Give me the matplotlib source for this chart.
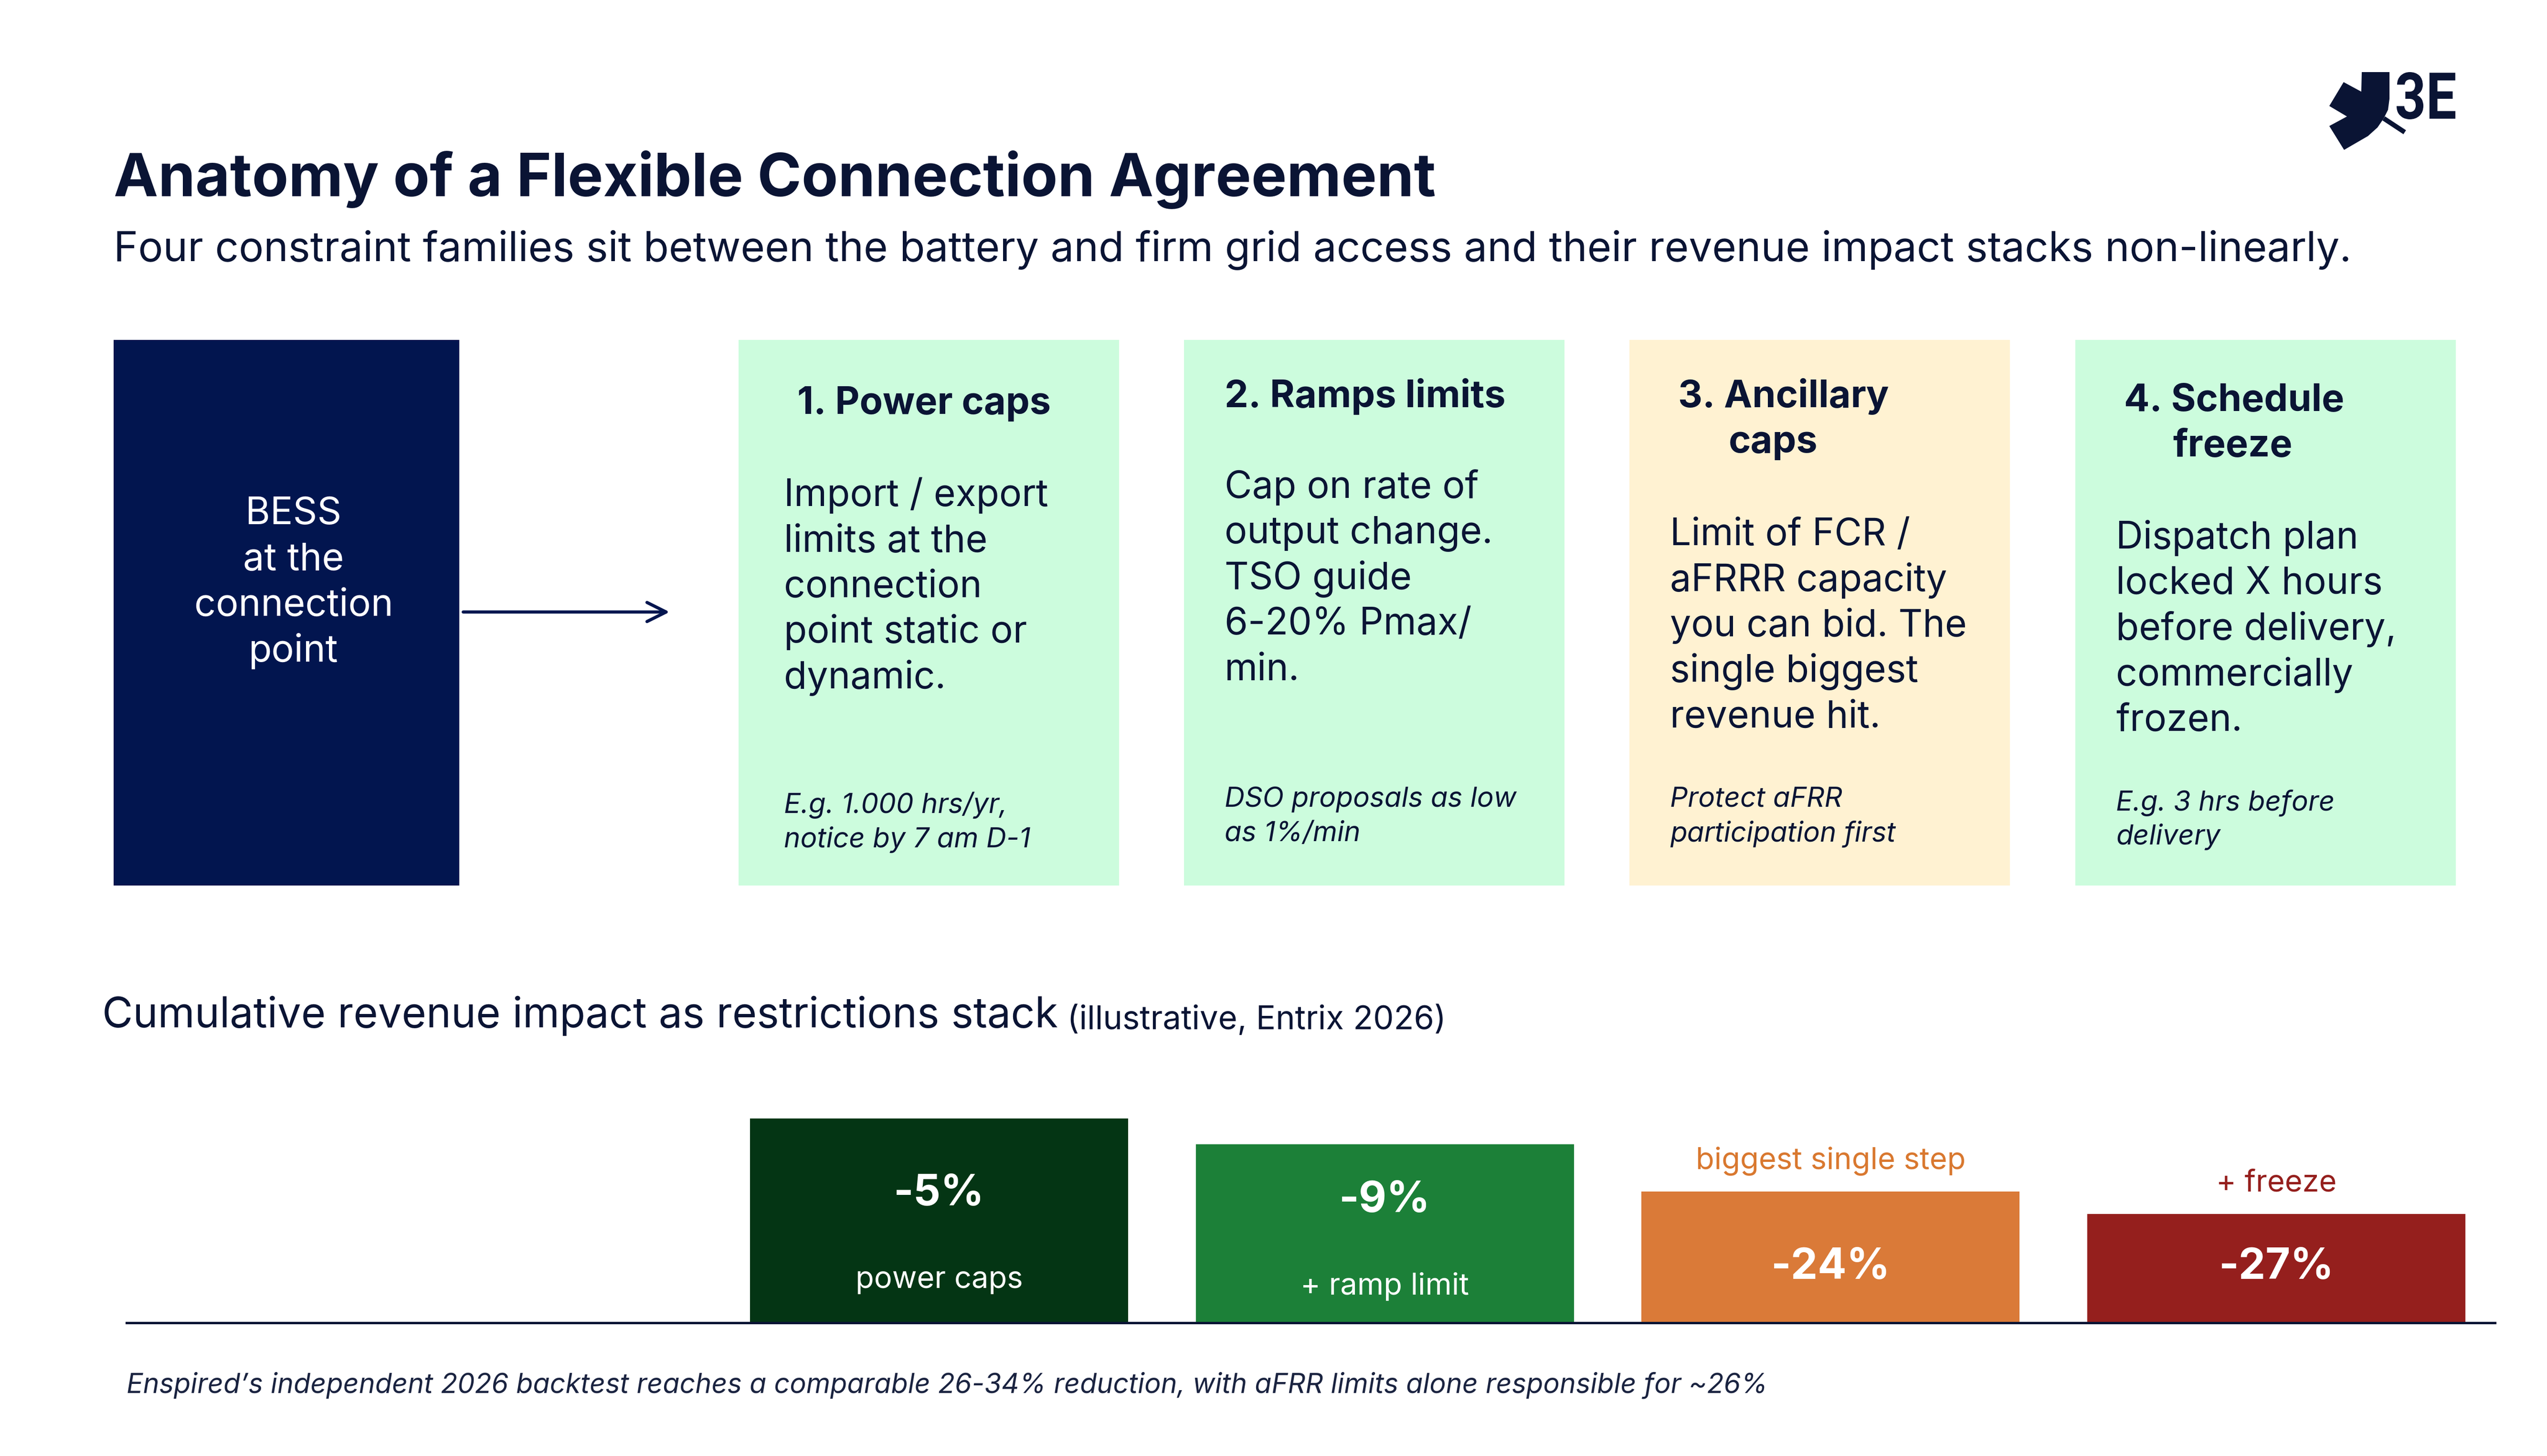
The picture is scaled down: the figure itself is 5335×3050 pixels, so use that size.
import numpy as np
import matplotlib
matplotlib.use("Agg")
import matplotlib.pyplot as plt
from matplotlib.patches import Rectangle, Polygon, PathPatch
from matplotlib.textpath import TextPath
from matplotlib.font_manager import FontProperties
from matplotlib.transforms import Affine2D

plt.rcParams["font.family"] = ["Inter", "DejaVu Sans"]

# ---- data ----
title = "Anatomy of a Flexible Connection Agreement"
subtitle = ("Four constraint families sit between the battery and firm grid access "
            "and their revenue impact stacks non-linearly.")

bess_lines = ["BESS", "at the", "connection", "point"]

box_titles = [["1. Power caps"], ["2. Ramps limits"], ["3. Ancillary", "caps"], ["4. Schedule", "freeze"]]
box_bodies = [
    ["Import / export", "limits at the", "connection", "point static or", "dynamic."],
    ["Cap on rate of", "output change.", "TSO guide", "6-20% Pmax/", "min."],
    ["Limit of FCR /", "aFRRR capacity", "you can bid. The", "single biggest", "revenue hit."],
    ["Dispatch plan", "locked X hours", "before delivery,", "commercially", "frozen."],
]
box_notes = [
    ["E.g. 1.000 hrs/yr,", "notice by 7 am D-1"],
    ["DSO proposals as low", "as 1%/min"],
    ["Protect aFRR", "participation first"],
    ["E.g. 3 hrs before", "delivery"],
]

section_title = "Cumulative revenue impact as restrictions stack"
section_note = " (illustrative, Entrix 2026)"

steps = ["power caps", "+ ramp limit", "+ ancillary caps", "+ freeze"]
impact_pct = [-5, -9, -24, -27]
bar_height_index = [100, 87.4, 64.3, 53.3]   # relative bar heights as drawn (illustrative)
inner_labels = ["power caps", "+ ramp limit", "", ""]
above_labels = ["", "", "biggest single step", "+ freeze"]

footnote = ("Enspired\u2019s independent 2026 backtest reaches a comparable 26-34% reduction, "
            "with aFRR limits alone responsible for ~26%")

# ---- styles ----
NAVY = "#0A1434"
BESS_BLUE = "#02154F"
MINT = "#CCFCDD"
CREAM = "#FFF2D2"
box_colors = [MINT, MINT, CREAM, MINT]
bar_colors = ["#043514", "#1C8038", "#DA7A38", "#951F1D"]
above_colors = ["#000000", "#000000", "#D9782F", "#951F1D"]

W, H = 5335, 3050
fig = plt.figure(figsize=(W / 300, H / 300), dpi=300)
fig.patch.set_facecolor("white")

bg = fig.add_axes([0, 0, 1, 1])
bg.set_xlim(0, W)
bg.set_ylim(H, 0)
bg.axis("off")

# header
bg.text(238, 411, title, fontsize=30, fontweight="bold", color=NAVY, va="baseline")
bg.text(238, 547, subtitle, fontsize=20.9, color=NAVY, va="baseline")

# logo
leaf = [(4947, 151), (5005, 151), (5005, 207), (5002, 230), (4993, 248), (4980, 267),
        (4960, 285), (4910, 314), (4879, 264), (4916, 244), (4879, 222), (4909, 172),
        (4946, 192)]
bg.add_patch(Polygon(leaf, closed=True, facecolor=NAVY, edgecolor="none"))
bg.plot([4993, 5037], [248, 277], color=NAVY, lw=2.4, solid_capstyle="butt")
tp = TextPath((0, 0), "3E", prop=FontProperties(family="Roboto", weight="bold"), size=100)
ext = tp.get_extents()
sx = (5143 - 5020) / ext.width
sy = (250 - 151) / ext.height
tr = Affine2D().translate(-ext.x0, -ext.y0).scale(sx, -sy).translate(5020, 250)
bg.add_patch(PathPatch(tr.transform_path(tp), facecolor=NAVY, edgecolor="none"))

# BESS block and arrow
top, bottom = 712, 1855
bg.add_patch(Rectangle((238, top), 962 - 238, bottom - top, facecolor=BESS_BLUE, edgecolor="none"))
for i, line in enumerate(bess_lines):
    bg.text(615, 1098 + i * 96, line, fontsize=19, color="white", ha="center", va="baseline")
bg.annotate("", xy=(1411, 1282), xytext=(962, 1282),
            arrowprops=dict(arrowstyle="->", color=BESS_BLUE, lw=1.6, mutation_scale=24))

# constraint boxes
box_left = [1547, 2480, 3413, 4347]
box_w = 797
title_x = [123, 85, 102, 102]
title_y = [867, 853, 853, 861]
wrap_dx = [0, 0, 106, 102]
body_x = [95, 85, 85, 85]
body_y = [1060, 1043, 1142, 1149]
note_y = [1703, 1690, 1690, 1697]
pitch = 95.5
for k in range(4):
    x0 = box_left[k]
    bg.add_patch(Rectangle((x0, top), box_w, bottom - top, facecolor=box_colors[k], edgecolor="none"))
    for j, line in enumerate(box_titles[k]):
        bg.text(x0 + title_x[k] + (wrap_dx[k] if j else 0), title_y[k] + j * pitch, line,
                fontsize=19, fontweight="bold", color=NAVY, va="baseline")
    for j, line in enumerate(box_bodies[k]):
        bg.text(x0 + body_x[k], body_y[k] + j * pitch, line, fontsize=18.9, color=NAVY, va="baseline")
    for j, line in enumerate(box_notes[k]):
        bg.text(x0 + body_x[k], note_y[k] + j * 72, line, fontsize=14, style="italic",
                color=NAVY, va="baseline")

# section heading
t1 = bg.text(214, 2152, section_title, fontsize=21.2, color=NAVY, va="baseline")
bg.annotate(section_note, xy=(1, 0), xycoords=t1, fontsize=16.5, color=NAVY, va="bottom")

# ---- bar chart ----
base_px, top_px = 2771, 2300
ax_l, ax_r = 265, 5226
ax = fig.add_axes([ax_l / W, (H - base_px) / H, (ax_r - ax_l) / W, (base_px - top_px) / H])
ax.patch.set_alpha(0)
x = np.arange(len(steps))
bar_pitch = 933.7
c0 = 1967
ax.set_xlim((ax_l - c0) / bar_pitch, (ax_r - c0) / bar_pitch)
ymax = (base_px - top_px) / ((base_px - 2343) / 100)
ax.set_ylim(0, ymax)
ax.bar(x, bar_height_index, width=792 / bar_pitch, color=bar_colors, zorder=2)
for s in ["top", "right", "left"]:
    ax.spines[s].set_visible(False)
ax.spines["bottom"].set_color(NAVY)
ax.spines["bottom"].set_linewidth(1.2)
ax.set_xticks([])
ax.set_yticks([])

pct_y = [63.0, 59.7, 27.2, 27.2]
inner_y = [21.0, 17.7]
above_y = [0, 0, 79.4, 68.2]
for i in range(len(steps)):
    ax.text(x[i], pct_y[i], f"{impact_pct[i]}%", fontsize=21.5, fontweight="bold",
            color="white", ha="center", va="center")
    if inner_labels[i]:
        ax.text(x[i], inner_y[i], inner_labels[i], fontsize=15.2, color="white",
                ha="center", va="center")
    if above_labels[i]:
        ax.text(x[i], above_y[i], above_labels[i], fontsize=15.2, color=above_colors[i],
                ha="center", va="center")

bg.text(265, 2917, footnote, fontsize=13.8, style="italic", color="#1A2340", va="baseline")

fig.savefig("out.png", dpi=300, facecolor="white")
